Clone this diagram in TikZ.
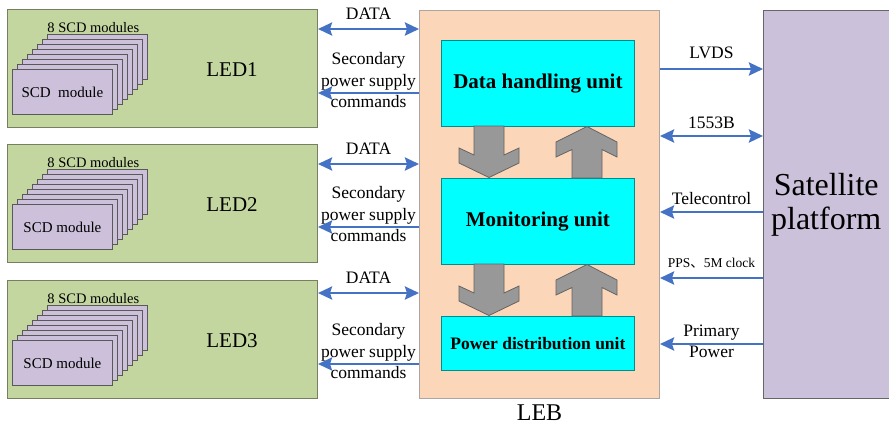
\documentclass[tikz,border=0pt]{standalone}
\usepackage{fontspec}
\setmainfont{Liberation Serif}
\newfontfamily\cjkfont{Noto Sans CJK SC}
\usetikzlibrary{arrows.meta}
\definecolor{ledgreen}{RGB}{196,214,160}
\definecolor{ledline}{RGB}{118,128,96}
\definecolor{scdfill}{RGB}{204,192,218}
\definecolor{lebfill}{RGB}{251,214,184}
\definecolor{lebline}{RGB}{175,165,160}
\definecolor{unitfill}{RGB}{0,255,255}
\definecolor{unitline}{RGB}{0,140,140}
\definecolor{linkblue}{RGB}{68,114,196}
\definecolor{blockgray}{RGB}{152,152,152}
\definecolor{blockline}{RGB}{100,100,100}
\definecolor{satfill}{RGB}{204,193,218}
\begin{document}
\begin{tikzpicture}[x=1pt, y=-1pt,
    ledbox/.style = {draw=ledline, fill=ledgreen, line width=1pt, minimum width=310, minimum height=118, anchor=north west, inner sep=0},
    module/.style = {draw=black!65, fill=scdfill, line width=0.8pt, minimum width=100, minimum height=45, anchor=north west, inner sep=0, font=\fontsize{15}{18}\selectfont},
    unit/.style = {draw=unitline, fill=unitfill, line width=0.8pt, minimum width=193, anchor=north west, inner sep=0},
    link/.style = {draw=linkblue, line width=2.5pt},
    lbl/.style = {font=\fontsize{17.5}{21.5}\selectfont, align=center, inner sep=0},
    blockarrow/.style = {fill=blockgray, draw=blockline, line width=0.8pt},
    >={Stealth[length=14pt, width=13pt, inset=2pt]}
]
    \useasboundingbox (0,0) rectangle (889,424);

    % LEB and its units
    \node[draw=lebline, fill=lebfill, line width=1pt, minimum width=240, minimum height=388, anchor=north west, inner sep=0] (leb) at (419,10) {};
    \node[below=2.5pt, inner sep=3pt, font=\fontsize{24}{28}\selectfont] (lebname) at (leb.south) {LEB};
    \node[unit, minimum height=86, font=\fontsize{21}{25}\selectfont\bfseries] (dhu) at (441,40) {Data handling unit};
    \node[unit, minimum height=86, font=\fontsize{21}{25}\selectfont\bfseries] (mu) at (441,178) {Monitoring unit};
    \node[unit, minimum height=54, font=\fontsize{17.5}{21}\selectfont\bfseries] (pdu) at (441,316) {Power distribution unit};
    \foreach \d in {0,138} {
        \draw[blockarrow, shift={(0,\d)}] (474,126) -- (504,126) -- (504,155) -- (519,148) -- (519,163) -- (489,177.5) -- (459,163) -- (459,148) -- (474,155) -- cycle;
        \draw[blockarrow, shift={(0,\d)}] (572,178) -- (572,149.5) -- (556,157) -- (556,142) -- (587,126.5) -- (617,142) -- (617,157) -- (602,149.5) -- (602,178) -- cycle;
    }

    % satellite side
    \node[fill=satfill, minimum width=126, minimum height=388.5, anchor=north west, inner sep=0, align=center, font=\fontsize{32}{34}\selectfont] (sat) at (763,10) {Satellite\\platform};
    \draw[black!60, line width=1pt] (sat.north east) -- (sat.north west) -- (sat.south west) -- (sat.south east);
    \draw[link, ->] (leb.east |- 0,69) -- node[lbl, above=8.5pt] (lvds) {LVDS} (sat.west |- 0,69);
    \draw[link, <->] (leb.east |- 0,136) -- node[lbl, above=6pt] (bus) {1553B} (sat.west |- 0,136);
    \draw[link, ->] (sat.west |- 0,212) -- node[lbl, above=6pt] (tc) {Telecontrol} (leb.east |- 0,212);
    \draw[link, ->] (sat.west |- 0,278) -- node[lbl, above=8.5pt, font=\fontsize{13.5}{16}\selectfont] (pps) {PPS{\cjkfont 、}5M clock} (leb.east |- 0,278);
    \draw[link, ->] (sat.west |- 0,344) -- node[lbl, yshift=2.7pt, font=\fontsize{17.5}{20.3}\selectfont] (pwr) {Primary\\Power} (leb.east |- 0,344);

    % the three LEDs
    \foreach \i/\y/\dy/\sy/\scd in {1/9/29/93/{SCD~~module}, 2/144/164/227/{SCD module}, 3/280/293/364/{SCD module}} {
        \node[ledbox] (led\i) at (7,\y) {};
        \foreach \k in {7,...,1}
            \node[module] (mod\i-\k) at (12+5*\k, \y+60-5*\k) {};
        \node[module] (mod\i-0) at (12,\y+60) {\scd};
        \node[anchor=south, inner sep=0, font=\fontsize{14.5}{17}\selectfont] (n\i) at ([xshift=-4pt, yshift=1.5pt]mod\i-7.north) {8 SCD modules};
        \node[font=\fontsize{21}{25}\selectfont] (name\i) at (232,\y+61) {LED\i};
        \draw[link, <->] (led\i.east |- 0,\dy) -- node[lbl, above=8.5pt] (data\i) {DATA} (leb.west |- 0,\dy);
        \draw[link, ->] (leb.west |- 0,\sy) -- node[lbl, yshift=12.5pt] (sec\i) {Secondary\\power supply\\commands} (led\i.east |- 0,\sy);
    }
\end{tikzpicture}
\end{document}
